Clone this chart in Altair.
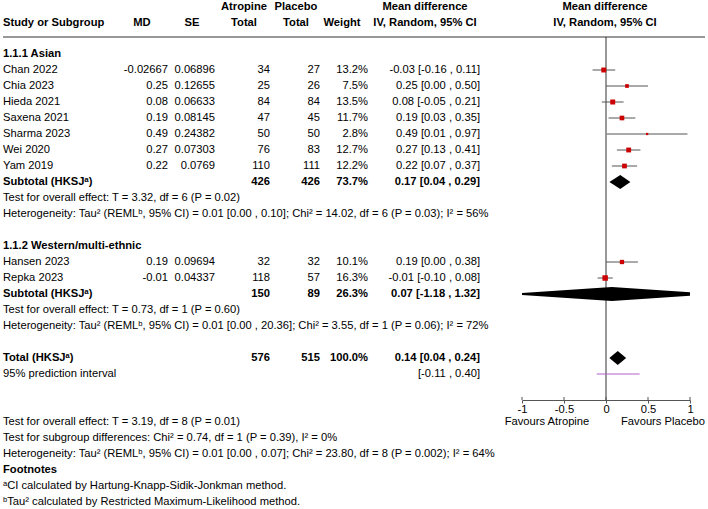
import altair as alt
import pandas as pd

# ---------------- data ----------------
studies = ["Chan 2022", "Chia 2023", "Hieda 2021", "Saxena 2021", "Sharma 2023",
           "Wei 2020", "Yam 2019", "Hansen 2023", "Repka 2023"]
study_rows = [0, 1, 2, 3, 4, 5, 6, 12, 13]
md_text = ["-0.02667", "0.25", "0.08", "0.19", "0.49", "0.27", "0.22", "0.19", "-0.01"]
md = [-0.02667, 0.25, 0.08, 0.19, 0.49, 0.27, 0.22, 0.19, -0.01]
se_text = ["0.06896", "0.12655", "0.06633", "0.08145", "0.24382", "0.07303", "0.0769",
           "0.09694", "0.04337"]
atropine_n = [34, 25, 84, 47, 50, 76, 110, 32, 118]
placebo_n = [27, 26, 84, 45, 50, 83, 111, 32, 57]
weights = [13.2, 7.5, 13.5, 11.7, 2.8, 12.7, 12.2, 10.1, 16.3]
ci_lo = [-0.16, 0.00, -0.05, 0.03, 0.01, 0.13, 0.07, 0.00, -0.10]
ci_hi = [0.11, 0.50, 0.21, 0.35, 0.97, 0.41, 0.37, 0.38, 0.08]

sub_names = ["Subtotal (HKSJᵃ)", "Subtotal (HKSJᵃ)", "Total (HKSJᵃ)"]
sub_rows = [7, 14, 18]
sub_atropine = [426, 150, 576]
sub_placebo = [426, 89, 515]
sub_weight = [73.7, 26.3, 100.0]
sub_est = [0.17, 0.07, 0.14]
sub_lo = [0.04, -1.18, 0.04]
sub_hi = [0.29, 1.32, 0.24]

pi_row = [19]
pi_lo = [-0.11]
pi_hi = [0.40]

bold_lines = ["1.1.1 Asian", "1.1.2 Western/multi-ethnic", "Footnotes"]
bold_rows = [-1, 11, 25]
normal_lines = [
    "Test for overall effect: T = 3.32, df = 6 (P = 0.02)",
    "Heterogeneity: Tau² (REMLᵇ, 95% CI) = 0.01 [0.00 , 0.10]; Chi² = 14.02, df = 6 (P = 0.03); I² = 56%",
    "Test for overall effect: T = 0.73, df = 1 (P = 0.60)",
    "Heterogeneity: Tau² (REMLᵇ, 95% CI) = 0.01 [0.00 , 20.36]; Chi² = 3.55, df = 1 (P = 0.06); I² = 72%",
    "95% prediction interval",
    "Test for overall effect: T = 3.19, df = 8 (P = 0.01)",
    "Test for subgroup differences: Chi² = 0.74, df = 1 (P = 0.39), I² = 0%",
    "Heterogeneity: Tau² (REMLᵇ, 95% CI) = 0.01 [0.00 , 0.07]; Chi² = 23.80, df = 8 (P = 0.002); I² = 64%",
    "ᵃCI calculated by Hartung-Knapp-Sidik-Jonkman method.",
    "ᵇTau² calculated by Restricted Maximum-Likelihood method.",
]
normal_rows = [8, 9, 15, 16, 19, 22, 23, 24, 26, 27]

favours = ["Favours Atropine", "Favours Placebo"]
favours_row = 22
axis_ticks = [-1, -0.5, 0, 0.5, 1]

# ---------------- tables ----------------
def ci_label(e, lo, hi):
    return f"{e:.2f} [{lo:.2f} , {hi:.2f}]"

study_df = pd.DataFrame({
    "name": studies, "row": study_rows, "md": md, "md_t": md_text, "se_t": se_text,
    "atr": [str(v) for v in atropine_n], "pla": [str(v) for v in placebo_n],
    "weight": weights, "w_t": [f"{w:.1f}%" for w in weights],
    "lo": ci_lo, "hi": ci_hi,
    "ci_t": [ci_label(e, l, h) for e, l, h in zip(md, ci_lo, ci_hi)],
})
sub_df = pd.DataFrame({
    "name": sub_names, "row": sub_rows,
    "atr": [str(v) for v in sub_atropine], "pla": [str(v) for v in sub_placebo],
    "w_t": [f"{w:.1f}%" for w in sub_weight],
    "ci_t": [ci_label(e, l, h) for e, l, h in zip(sub_est, sub_lo, sub_hi)],
})
pi_df = pd.DataFrame({"row": pi_row, "lo": pi_lo, "hi": pi_hi,
                      "ci_t": [f"[{l:.2f} , {h:.2f}]" for l, h in zip(pi_lo, pi_hi)]})
bold_df = pd.DataFrame({"text": bold_lines, "row": bold_rows})
normal_df = pd.DataFrame({"text": normal_lines, "row": normal_rows})
fav_df = pd.DataFrame({"text": favours, "row": [favours_row] * 2})

HALF = 0.44  # diamond half-height in row units
diam_rec = []
for g, (r, e, l, h) in enumerate(zip(sub_rows, sub_est, sub_lo, sub_hi)):
    diam_rec.append({"g": g, "x": l, "y": r, "y2": r})
    diam_rec.append({"g": g, "x": e, "y": r - HALF, "y2": r + HALF})
    diam_rec.append({"g": g, "x": h, "y": r, "y2": r})
diam_df = pd.DataFrame(diam_rec)

# ---------------- layout ----------------
LEFT = 522
W, H = 168, 363
FONT = "Liberation Sans"
FS = 11.2
yscale = alt.Scale(domain=[-2.0625, 20.625], reverse=True, nice=False, zero=False)
xscale = alt.Scale(domain=[-1, 1], nice=False, zero=False)
xaxis = alt.Axis(values=axis_ticks, labelExpr="'' + datum.value", title=None, grid=False,
                 domainColor="#555555", tickColor="#555555", tickSize=3, labelPadding=0,
                 labelFontSize=FS, labelFont=FONT, labelColor="black",
                 labelFlush=False)
Y = alt.Y("row:Q", scale=yscale, axis=None)


def col(df, field, xabs, align="left", bold=False):
    return alt.Chart(df).mark_text(
        align=align, baseline="middle", fontWeight="bold" if bold else "normal",
        color="black").encode(x=alt.value(xabs - LEFT), y=Y, text=alt.Text(f"{field}:N"))


def header(text, xabs, yabs):
    return alt.Chart(pd.DataFrame({"t": [text]})).mark_text(
        align="center", baseline="middle", fontWeight="bold", color="black").encode(
        x=alt.value(xabs - LEFT), y=alt.value(yabs - 37), text="t:N")


layers = []
# headers
layers += [
    alt.Chart(pd.DataFrame({"t": ["Study or Subgroup"]})).mark_text(
        align="left", baseline="middle", fontWeight="bold", color="black").encode(
        x=alt.value(3 - LEFT), y=alt.value(23 - 37), text="t:N"),
    header("MD", 142, 23), header("SE", 192, 23),
    header("Atropine", 244, 7), header("Total", 244, 23),
    header("Placebo", 296, 7), header("Total", 296, 23),
    header("Weight", 342, 23),
    header("Mean difference", 425, 7), header("IV, Random, 95% CI", 425, 23),
    header("Mean difference", 605, 7), header("IV, Random, 95% CI", 605, 23),
]
# header rule and zero line
layers.append(alt.Chart(pd.DataFrame({"a": [0]})).mark_rule(color="#333333").encode(
    x=alt.value(3 - LEFT), x2=alt.value(705 - LEFT), y=alt.value(0)))
layers.append(alt.Chart(pd.DataFrame({"x": [0]})).mark_rule(color="#333333").encode(
    x=alt.X("x:Q", scale=xscale, axis=xaxis), y=alt.value(0), y2=alt.value(H)))
# upward half of the axis ticks
layers.append(alt.Chart(pd.DataFrame({"x": axis_ticks})).mark_rule(color="#555555").encode(
    x=alt.X("x:Q", scale=xscale, axis=xaxis), y=alt.value(H - 3), y2=alt.value(H)))
# study columns
layers += [
    col(study_df, "name", 3), col(study_df, "md_t", 168, "right"),
    col(study_df, "se_t", 215, "right"), col(study_df, "atr", 270, "right"),
    col(study_df, "pla", 320, "right"), col(study_df, "w_t", 368, "right"),
    col(study_df, "ci_t", 480, "right"),
]
# subtotal columns
layers += [
    col(sub_df, "name", 3, bold=True), col(sub_df, "atr", 270, "right", True),
    col(sub_df, "pla", 320, "right", True), col(sub_df, "w_t", 368, "right", True),
    col(sub_df, "ci_t", 480, "right", True),
]
layers.append(col(pi_df, "ci_t", 480, "right"))
layers.append(col(bold_df, "text", 3, bold=True))
layers.append(col(normal_df, "text", 3))
layers.append(alt.Chart(fav_df.iloc[[0]]).mark_text(align="center", baseline="middle",
              color="black").encode(x=alt.value(547 - LEFT), y=Y, text="text:N"))
layers.append(alt.Chart(fav_df.iloc[[1]]).mark_text(align="center", baseline="middle",
              color="black").encode(x=alt.value(663 - LEFT), y=Y, text="text:N"))

# forest marks
layers.append(alt.Chart(study_df).mark_rule(color="#555555", strokeWidth=1).encode(
    x=alt.X("lo:Q", scale=xscale, axis=xaxis), x2="hi:Q", y=Y))
layers.append(alt.Chart(pi_df).mark_rule(color="#b060c8", strokeWidth=1).encode(
    x=alt.X("lo:Q", scale=xscale, axis=xaxis), x2="hi:Q", y=Y))
layers.append(alt.Chart(study_df).mark_square(color="#cc0000", opacity=1, filled=True).encode(
    x=alt.X("md:Q", scale=xscale, axis=xaxis), y=Y,
    size=alt.Size("weight:Q", scale=alt.Scale(domain=[0, 16.3], range=[0, 30]), legend=None)))
layers.append(alt.Chart(diam_df).mark_area(color="black", clip=True, orient="vertical").encode(
    x=alt.X("x:Q", scale=xscale, axis=xaxis),
    y=alt.Y("y:Q", scale=yscale, axis=None), y2="y2:Q", detail="g:N"))

chart = alt.layer(*layers).properties(
    width=W, height=H,
    padding={"left": LEFT, "top": 37, "right": 708 - LEFT - W, "bottom": 509 - 37 - H},
    autosize=alt.AutoSizeParams(type="none"),
).configure_view(stroke=None).configure_text(font=FONT, fontSize=FS)

chart.save("out.html", embed_options={"renderer": "svg", "actions": False})
